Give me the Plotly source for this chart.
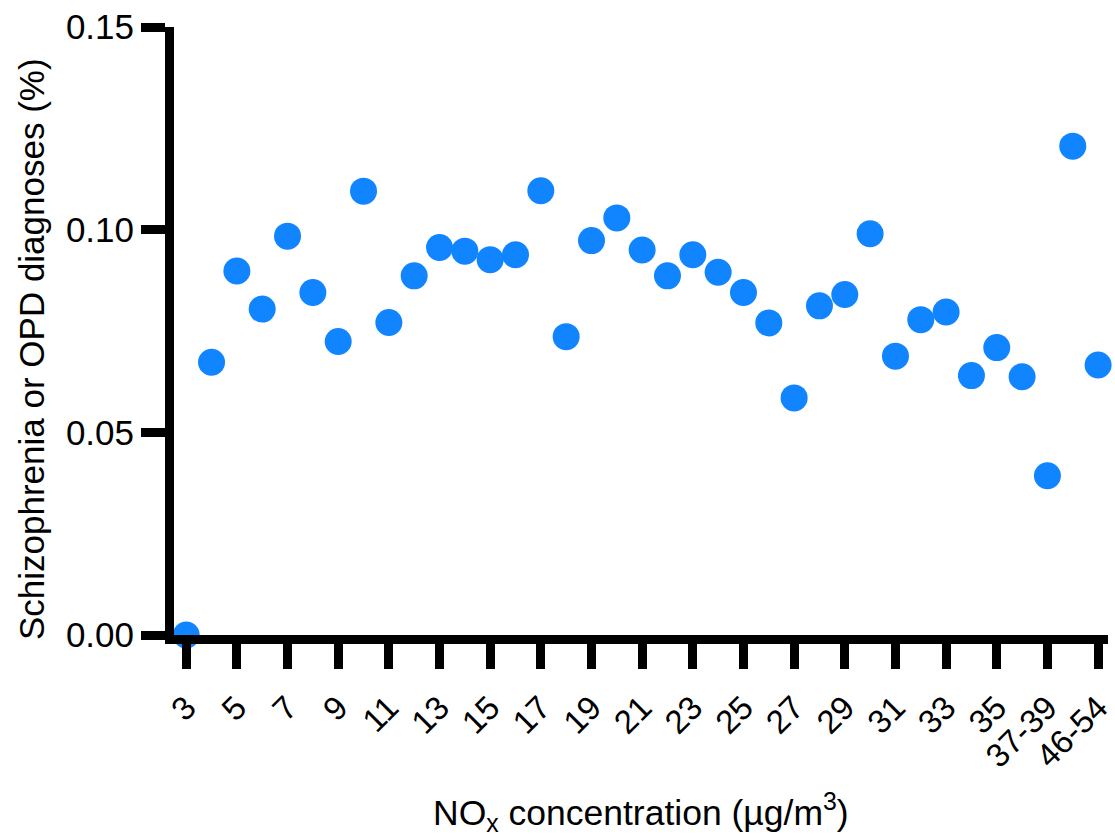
import plotly.graph_objects as go

categories = [str(v) for v in range(3, 37)] + ["37-39", "40-45", "46-54"]
diagnoses_pct = [
    0.0, 0.0673, 0.0898, 0.0804, 0.0984, 0.0845, 0.0724, 0.1095, 0.0771, 0.0886,
    0.0956, 0.0947, 0.0926, 0.0938, 0.1096, 0.0736, 0.0973, 0.1029, 0.0950, 0.0886,
    0.0938, 0.0895, 0.0845, 0.0770, 0.0585, 0.0812, 0.0840, 0.0990, 0.0688, 0.0778,
    0.0797, 0.0640, 0.0709, 0.0637, 0.0393, 0.1206, 0.0666,
]
tick_labels = categories[::2]
y_ticks = [0.0, 0.05, 0.10, 0.15]
y_tick_text = ["0.00", "0.05", "0.10", "0.15"]

FONT = "Arial, Liberation Sans, sans-serif"

fig = go.Figure()
fig.add_trace(go.Scatter(
    x=categories, y=diagnoses_pct, mode="markers",
    marker=dict(size=27, color="#1184ff", line=dict(width=0)),
    cliponaxis=False, showlegend=False,
))

L, T, B = 174, 27, 201
W, H = 1115, 836
plot_w = W - L
cat_px = 25.52
x0 = (L - 186.3) / cat_px
fig.update_layout(
    width=W, height=H,
    margin=dict(l=L, r=0, t=T, b=B, pad=0),
    paper_bgcolor="white", plot_bgcolor="white",
    font=dict(family=FONT, color="black"),
    xaxis=dict(
        type="category", categoryorder="array", categoryarray=categories,
        range=[x0, x0 + plot_w / cat_px],
        tickmode="array", tickvals=tick_labels, ticktext=tick_labels,
        tickangle=-45, tickfont=dict(size=33, family=FONT),
        ticklabelstandoff=6,
        showline=True, linecolor="black", linewidth=9,
        ticks="outside", ticklen=25, tickwidth=9, tickcolor="black",
        showgrid=False, zeroline=False,
    ),
    yaxis=dict(
        range=[0, 0.15],
        tickmode="array", tickvals=y_ticks, ticktext=y_tick_text,
        tickfont=dict(size=35, family=FONT),
        showline=True, linecolor="black", linewidth=9,
        ticks="outside", ticklen=24, tickwidth=9, tickcolor="black",
        showgrid=False, zeroline=False,
    ),
    annotations=[
        dict(text="Schizophrenia or OPD diagnoses (%)", textangle=-90,
             xref="paper", yref="paper", x=(30 - L) / plot_w, y=(635 - 349) / (635 - T),
             xanchor="center", yanchor="middle", showarrow=False,
             font=dict(size=35, family=FONT, color="black")),
        dict(text="NO<sub>x</sub> concentration (µg/m<sup>3</sup>)",
             xref="paper", yref="paper", x=(645 - L) / plot_w, y=(635 - 812) / (635 - T),
             xanchor="center", yanchor="middle", showarrow=False,
             font=dict(size=35.5, family=FONT, color="black")),
    ],
)

fig.write_html("out.html")
